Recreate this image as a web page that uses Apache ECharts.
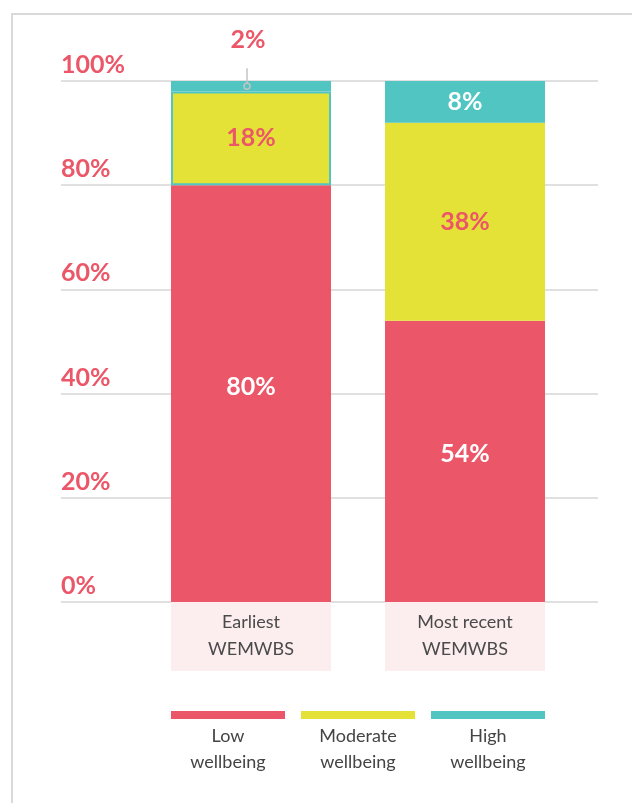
<!DOCTYPE html>
<html>
<head>
<meta charset="utf-8">
<script src="https://cdn.jsdelivr.net/npm/echarts@6/dist/echarts.min.js"></script>
<style>
body { margin: 0; background: #fff; }
#frame {
  position: absolute; left: 11px; top: 13px; width: 700px; height: 900px;
  border-top: 2px solid #d9d9d9; border-left: 2px solid #d9d9d9;
}
#chart { position: absolute; left: 0; top: 0; width: 632px; height: 803px; }
</style>
</head>
<body>
<div id="frame"></div>
<div id="chart"></div>
<script>
// data
var categories = ['Earliest\nWEMWBS', 'Most recent\nWEMWBS'];
var seriesNames = ['Low wellbeing', 'Moderate wellbeing', 'High wellbeing'];
var lowValues = [80, 54];
var moderateValues = [18, 38];
var highValues = [2, 8];
var yTicks = [0, 20, 40, 60, 80, 100];

var RED = '#eb5768', YELLOW = '#e4e236', TEAL = '#51c5c2';
var FONT = 'Lato';

var chart = echarts.init(document.getElementById('chart'));

// small leader marker for the tiny top segment of the first bar
var leaderY = lowValues[0] + moderateValues[0] + highValues[0] / 2;

var valueLabel = function (color, extra) {
  return Object.assign({
    show: true,
    position: 'inside',
    color: color,
    fontFamily: FONT,
    fontWeight: 'bold',
    fontSize: 25,
    lineHeight: 26,
    formatter: '{c}%'
  }, extra || {});
};

chart.setOption({
  animation: false,
  grid: [
    { left: 61, right: 34, top: 81, bottom: 201 },
    { left: 144, right: 60, top: 81, bottom: 201 }
  ],
  xAxis: [
    { gridIndex: 0, type: 'value', show: false },
    {
      gridIndex: 1,
      type: 'category',
      data: categories,
      axisLine: { show: false },
      axisTick: { show: false },
      axisLabel: {
        interval: 0,
        margin: 0,
        width: 160,
        backgroundColor: '#fcedee',
        padding: [7, 0, 8, 0],
        lineHeight: 27,
        fontSize: 18,
        fontFamily: FONT,
        color: '#4a4a4a'
      }
    }
  ],
  yAxis: [
    {
      gridIndex: 0,
      type: 'value',
      min: yTicks[0],
      max: yTicks[yTicks.length - 1],
      interval: 20,
      axisLine: { show: false },
      axisTick: { show: false },
      splitLine: { lineStyle: { color: '#d6d6d6', width: 1.5 } },
      axisLabel: {
        inside: true,
        margin: 0,
        align: 'left',
        verticalAlign: 'bottom',
        padding: [0, 0, 3, 0],
        formatter: '{value}%',
        color: RED,
        fontFamily: FONT,
        fontWeight: 'bold',
        fontSize: 25,
        lineHeight: 26
      }
    },
    { gridIndex: 1, type: 'value', min: 0, max: 100, show: false }
  ],
  legend: {
    left: 171,
    top: 711,
    padding: 0,
    itemWidth: 114,
    itemHeight: 8,
    itemGap: 16,
    icon: 'rect',
    selectedMode: false,
    data: seriesNames,
    formatter: function (name) {
      return '{a|' + name.replace(' ', '}\n{a|') + '}';
    },
    textStyle: {
      width: 114,
      padding: [68, 0, 0, -119],
      rich: {
        a: { align: 'center', fontSize: 18, lineHeight: 26, fontFamily: FONT, color: '#444' }
      }
    }
  },
  series: [
    {
      name: seriesNames[0],
      type: 'bar',
      stack: 'total',
      xAxisIndex: 1,
      yAxisIndex: 1,
      barWidth: 160,
      itemStyle: { color: RED },
      label: valueLabel('#fff', { offset: [0, -7] }),
      data: lowValues
    },
    {
      name: seriesNames[1],
      type: 'bar',
      stack: 'total',
      xAxisIndex: 1,
      yAxisIndex: 1,
      barWidth: 160,
      itemStyle: { color: YELLOW },
      label: valueLabel(RED),
      data: moderateValues.map(function (v, i) {
        return i === 0 ? { value: v, itemStyle: { borderColor: TEAL, borderWidth: 2 } } : v;
      })
    },
    {
      name: seriesNames[2],
      type: 'bar',
      stack: 'total',
      xAxisIndex: 1,
      yAxisIndex: 1,
      barWidth: 160,
      itemStyle: { color: TEAL },
      label: valueLabel('#fff'),
      data: highValues.map(function (v, i) {
        return i === 0 ? { value: v, label: { position: 'top', distance: 28, color: RED, offset: [-3, 0] } } : v;
      }),
      markPoint: {
        silent: true,
        label: { show: false },
        data: [
          {
            coord: [0, leaderY],
            symbol: 'rect',
            symbolSize: [1.5, 18],
            symbolOffset: [-4, -9],
            itemStyle: { color: '#c4c4c4' }
          },
          {
            coord: [0, leaderY],
            symbol: 'circle',
            symbolSize: 6,
            symbolOffset: [-4, 0],
            itemStyle: { color: TEAL, borderColor: '#c4c4c4', borderWidth: 1.5 }
          }
        ]
      }
    }
  ]
});
</script>
</body>
</html>
